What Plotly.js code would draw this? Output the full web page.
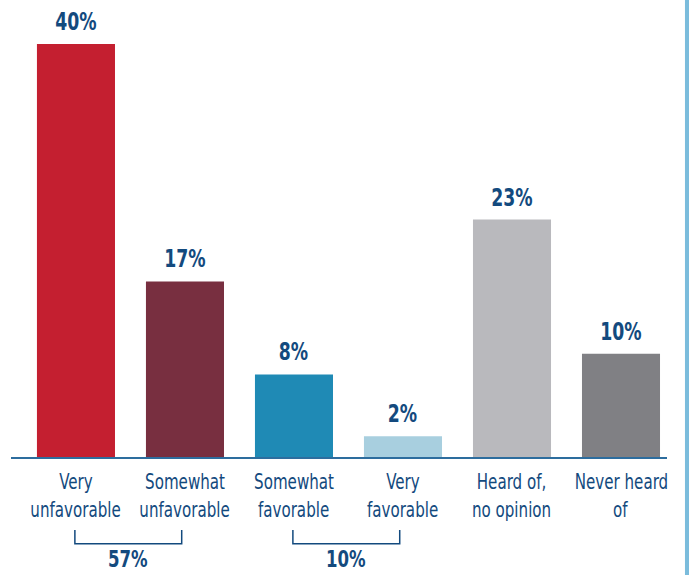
<!DOCTYPE html>
<html><head><meta charset="utf-8">
<script src="https://cdn.plot.ly/plotly-3.0.1.min.js"></script>
<style>
html,body{margin:0;padding:0;background:#fff}#chart{width:689px;height:575px}
#chart .annotation-text{transform-box:fill-box;transform-origin:center;transform:scaleX(0.8);}
</style>
</head><body><div id="chart"></div>
<script>
const categories = ["Very<br>unfavorable", "Somewhat<br>unfavorable", "Somewhat<br>favorable", "Very<br>favorable", "Heard of,<br>no opinion", "Never heard<br>of"];
const values = [40, 17, 8, 2, 23, 10];
const barColors = ["#c41f30", "#782f40", "#1f8ab5", "#a8cfdf", "#b9b9bd", "#808084"];
const groupLabels = ["57%", "10%"];
const groupRanges = [[0, 1], [2, 3]];

const FONT = "'DejaVu Sans Condensed','Liberation Sans Narrow',sans-serif";
const DARK = "#134a7e";
const xs = categories.map((_, i) => i);

const annotations = [];
values.forEach((v, i) => {
  annotations.push({x: i, y: v, xref: 'x', yref: 'y', text: '<b>' + v + '%</b>', showarrow: false,
    yanchor: 'bottom', yshift: 6, font: {family: FONT, size: 24, color: DARK}});
});
categories.forEach((c, i) => {
  const lines = c.split('<br>');
  lines.forEach((ln, j) => {
    annotations.push({x: i, y: -0.055 - j * 0.061, xref: 'x', yref: 'paper', text: ln, showarrow: false,
      yanchor: 'middle', font: {family: FONT, size: 21, color: DARK}});
  });
});
const shapes = [];
groupRanges.forEach((r, k) => {
  const x0 = r[0] - 0.01, x1 = r[1] - 0.03;
  shapes.push({type: 'path', xref: 'x', yref: 'paper',
    path: `M ${x0} -0.16 L ${x0} -0.19 L ${x1} -0.19 L ${x1} -0.16`,
    line: {color: DARK, width: 1.5}});
  annotations.push({x: (r[0] + r[1]) / 2 - 0.02, y: -0.223, xref: 'x', yref: 'paper', text: '<b>' + groupLabels[k] + '</b>',
    showarrow: false, yanchor: 'middle', font: {family: FONT, size: 23, color: DARK}});
});
shapes.push({type: 'rect', xref: 'paper', yref: 'paper', x0: 1.0274, x1: 1.04, y0: -0.3, y1: 1.01,
  fillcolor: '#7bbcdc', line: {width: 0}});

Plotly.newPlot('chart', [{
  type: 'bar', x: xs, y: values, marker: {color: barColors}, width: 0.716, hoverinfo: 'none'
}], {
  width: 689, height: 575,
  margin: {l: 11, r: 22, t: 0, b: 118},
  paper_bgcolor: '#fff', plot_bgcolor: '#fff',
  showlegend: false,
  xaxis: {range: [-0.596, 5.422], showticklabels: false, ticks: '', showgrid: false, zeroline: false,
    showline: true, linecolor: '#2d6d9e', linewidth: 2, fixedrange: true},
  yaxis: {range: [0, 44.26], visible: false, showgrid: false, zeroline: false, fixedrange: true},
  annotations: annotations, shapes: shapes
}, {staticPlot: true});
</script></body></html>
